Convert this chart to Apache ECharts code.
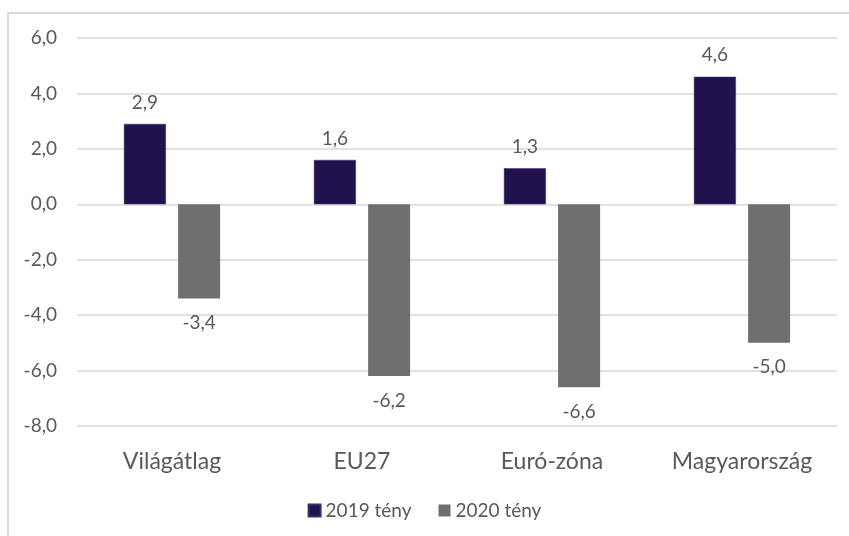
<!DOCTYPE html>
<html>
<head>
<meta charset="utf-8">
<script src="https://cdn.jsdelivr.net/npm/echarts@6/dist/echarts.min.js"></script>
<style>
  html, body { margin: 0; padding: 0; background: #fff; }
  #chart { width: 849px; height: 536px; }
</style>
</head>
<body>
<div id="chart"></div>
<script>
// adatok
const categories = ['Világátlag', 'EU27', 'Euró-zóna', 'Magyarország'];
const values2019 = [2.9, 1.6, 1.3, 4.6];
const values2020 = [-3.4, -6.2, -6.6, -5.0];
const seriesNames = ['2019 tény', '2020 tény'];

const textColor = '#595959';
const fmt = v => Number(v).toFixed(1).replace('.', ',');

const chart = echarts.init(document.getElementById('chart'));

const option = {
  animation: false,
  textStyle: { fontFamily: 'Lato' },
  graphic: [{
    type: 'rect',
    shape: { x: 8, y: 13, width: 1000, height: 1000 },
    style: { fill: 'none', stroke: '#d9d9d9', lineWidth: 2 },
    silent: true
  }],
  grid: { left: 77, right: 12, top: 38, bottom: 110 },
  legend: {
    data: seriesNames,
    bottom: 11,
    left: 'center',
    itemWidth: 12,
    itemHeight: 12,
    itemGap: 27,
    icon: 'rect',
    textStyle: { color: textColor, fontSize: 19, fontFamily: 'Lato' }
  },
  xAxis: {
    type: 'category',
    data: categories,
    axisLine: { show: false, onZero: false },
    axisTick: { show: false },
    axisLabel: { color: textColor, fontSize: 23, margin: 24, fontFamily: 'Lato' }
  },
  yAxis: {
    type: 'value',
    min: -8,
    max: 6,
    interval: 2,
    axisLine: { show: false },
    axisTick: { show: false },
    splitLine: { lineStyle: { color: '#d9d9d9', width: 1.5 } },
    axisLabel: { color: textColor, fontSize: 19, margin: 20, formatter: fmt, fontFamily: 'Lato' }
  },
  series: [
    {
      name: seriesNames[0],
      type: 'bar',
      data: values2019,
      barWidth: 42,
      barGap: '29%',
      itemStyle: { color: '#20124d', borderColor: '#3a2d6b', borderWidth: 0.5 },
      label: {
        show: true,
        position: 'top',
        distance: 12,
        color: textColor,
        fontSize: 19,
        fontFamily: 'Lato',
        formatter: p => fmt(p.value)
      }
    },
    {
      name: seriesNames[1],
      type: 'bar',
      data: values2020,
      barWidth: 42,
      itemStyle: { color: '#6f6f6f' },
      label: {
        show: true,
        position: 'bottom',
        distance: 15,
        color: textColor,
        fontSize: 19,
        fontFamily: 'Lato',
        formatter: p => fmt(p.value)
      }
    }
  ]
};

chart.setOption(option);
</script>
</body>
</html>
